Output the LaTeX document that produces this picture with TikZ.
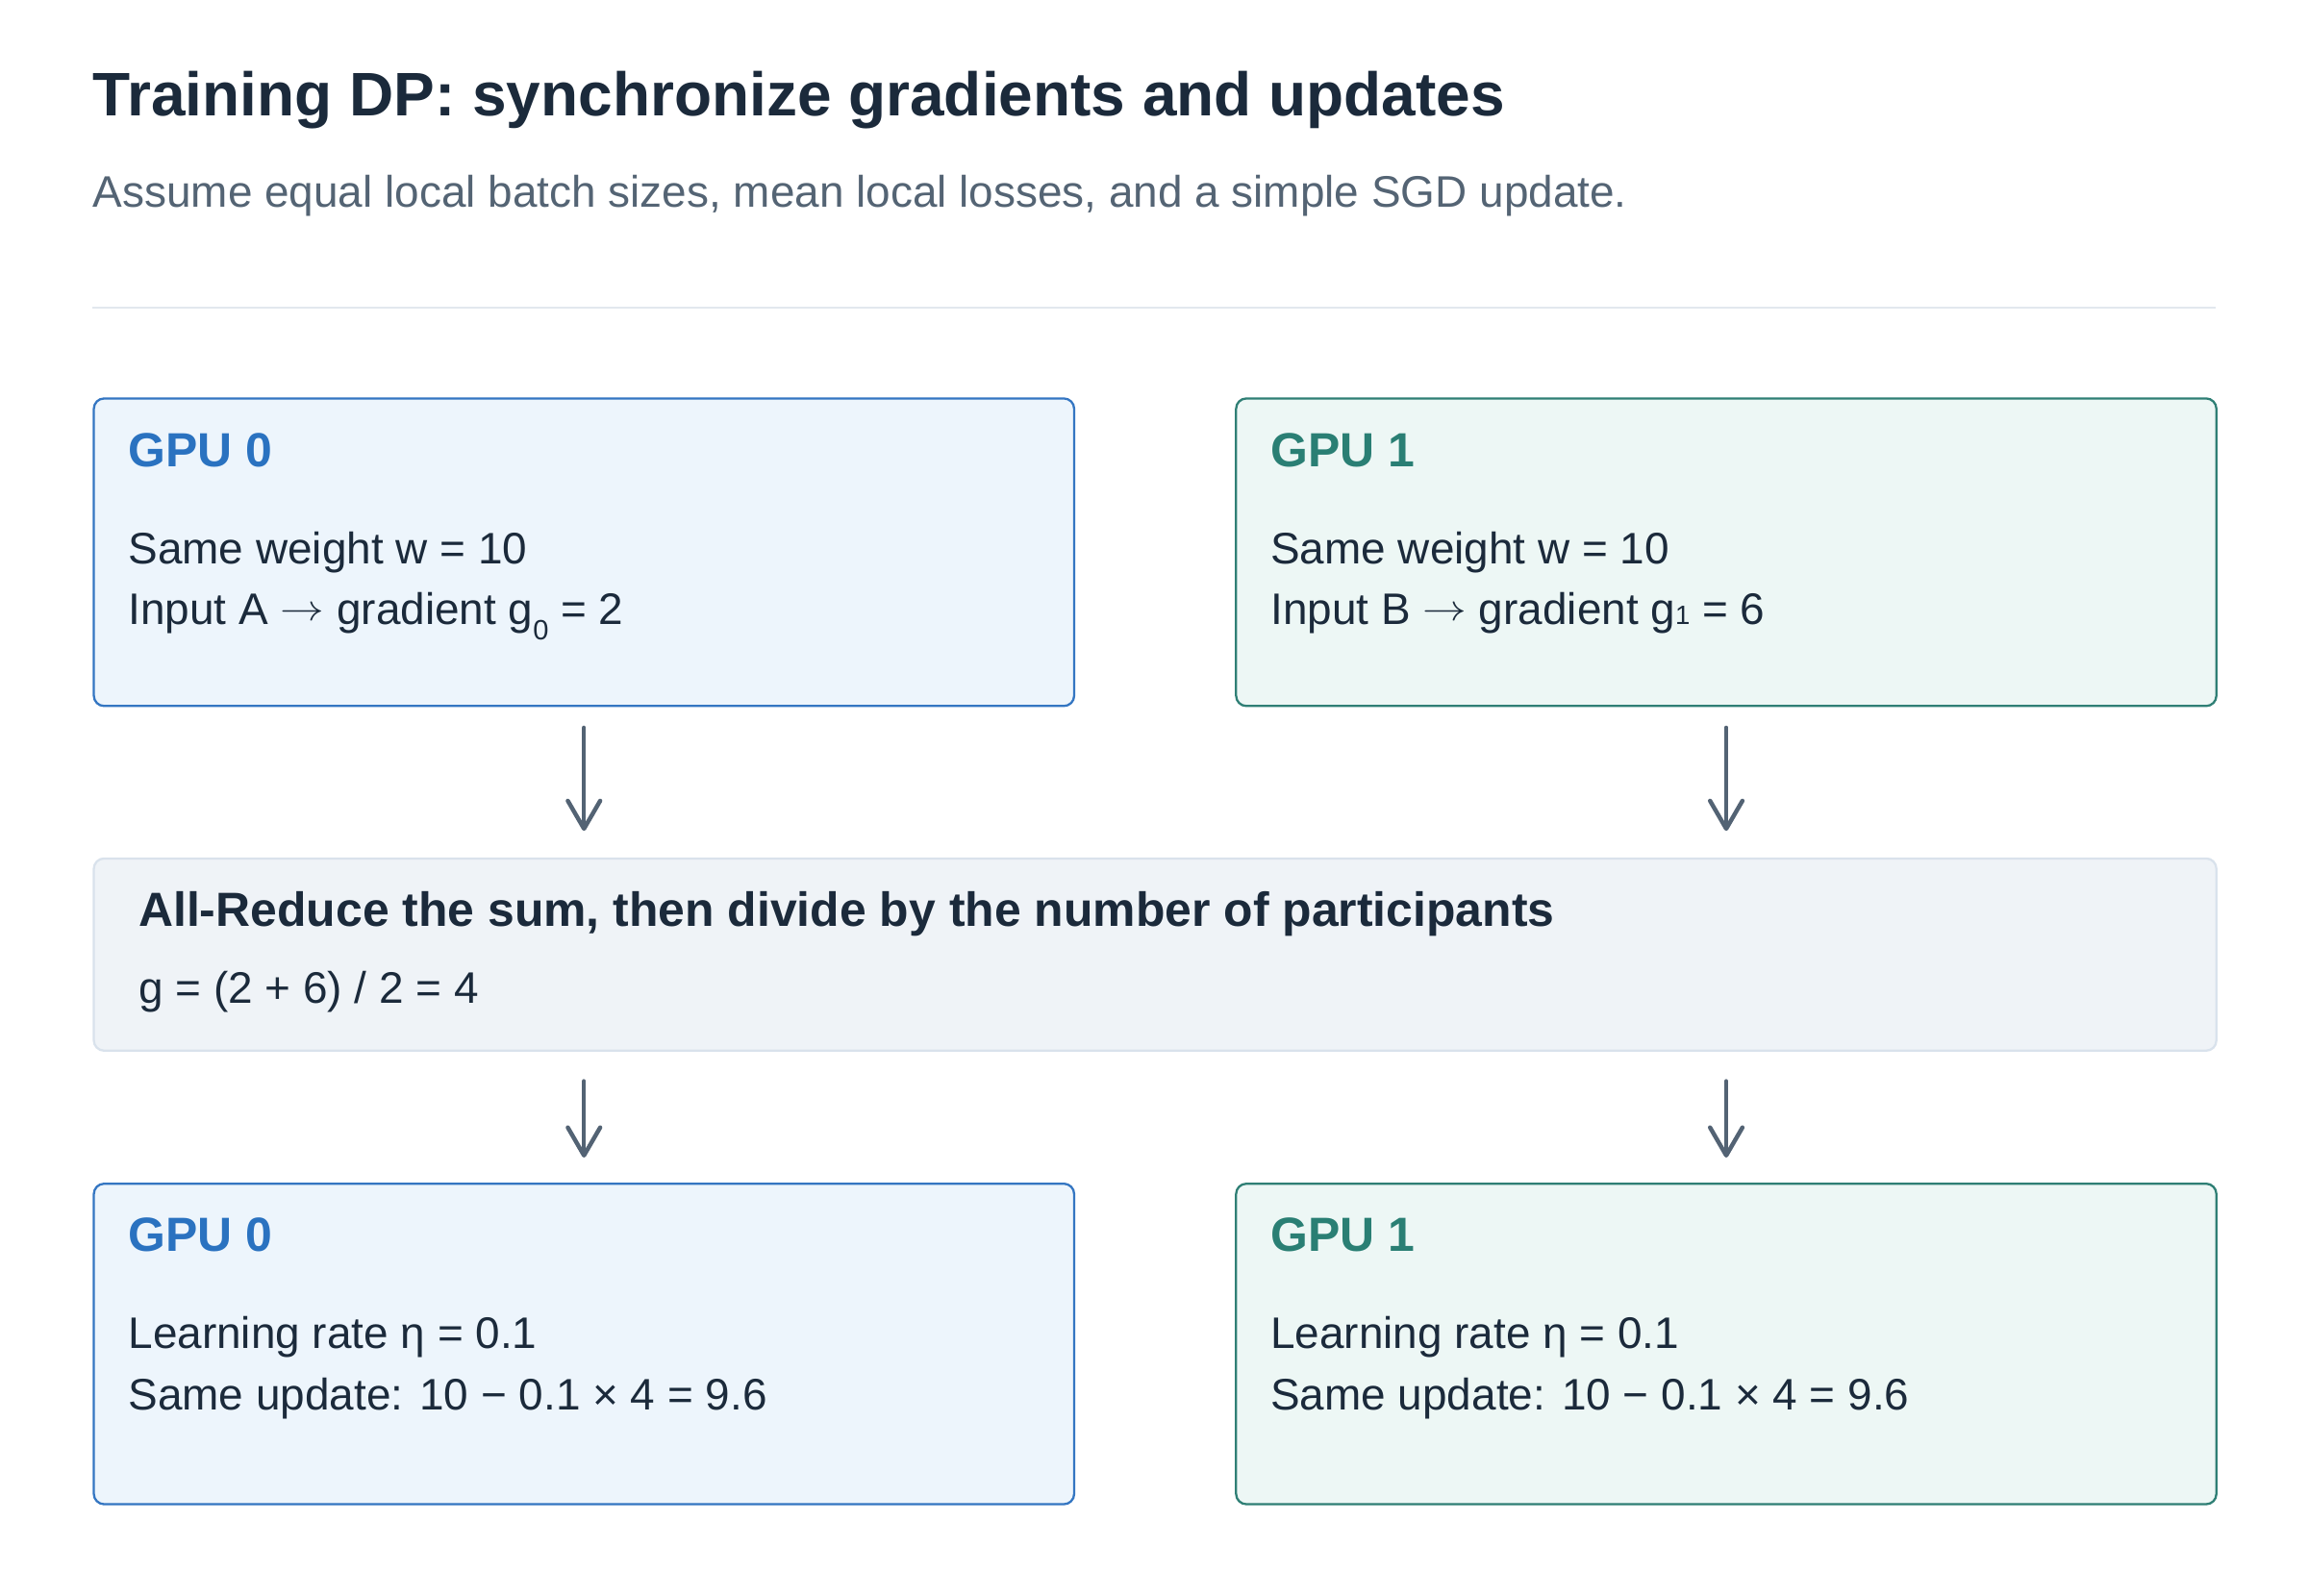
\documentclass[tikz,border=0pt]{standalone}
\usepackage{graphicx}
\usepackage{fontspec}
\setmainfont{Liberation Sans}
\usetikzlibrary{arrows.meta}
\definecolor{ink}{HTML}{1B2A3B}
\definecolor{subc}{HTML}{546474}
\definecolor{rulec}{HTML}{E2E8EE}
\definecolor{blueT}{HTML}{2A72C0}
\definecolor{blueB}{HTML}{3476C2}
\definecolor{blueF}{HTML}{EDF5FC}
\definecolor{tealT}{HTML}{2A7F74}
\definecolor{tealB}{HTML}{2F7F75}
\definecolor{tealF}{HTML}{EDF7F5}
\definecolor{midF}{HTML}{EFF3F7}
\definecolor{midB}{HTML}{D9E2EC}
\definecolor{arrc}{HTML}{536374}
\tikzset{
  box/.style={draw, line width=1.5pt, rounded corners=7pt, anchor=north west, inner sep=0pt},
  box0/.style={box, draw=blueB, fill=blueF, minimum width=666pt},
  box1/.style={box, draw=tealB, fill=tealF, minimum width=666pt},
  midbox/.style={box, draw=midB, fill=midF, minimum width=1442pt, minimum height=130.6pt},
  txt/.style={anchor=base west, inner sep=0pt, text=ink, font=\fontsize{30}{36}\selectfont},
  headtxt/.style={anchor=base west, inner sep=0pt, font=\bfseries\fontsize{32.6}{40}\selectfont},
  arr/.style={draw=arrc, line width=2.9pt, line cap=round, -{Straight Barb[length=19pt, width=22pt, round]}}
}
\newcommand{\subzero}{\raisebox{-10pt}{\fontsize{19}{19}\selectfont 0}}
\newcommand{\subone}{\raisebox{0pt}{\fontsize{18}{18}\selectfont 1}}
\newcommand{\thinarrow}{\raisebox{2.5pt}{\scalebox{1.2}[1.0]{$\rightarrow$}}}
\begin{document}
\begin{tikzpicture}[x=1pt,y=-1pt]
\useasboundingbox[fill=white] (0,0) rectangle (1568,1084.5);
% title
\node[anchor=base west, inner sep=0pt, text=ink, font=\bfseries\fontsize{41.8}{50}\selectfont] (title) at (63,78.5) {Training DP: synchronize gradients and updates};
\node[anchor=base west, inner sep=0pt, text=subc, font=\fontsize{30}{36}\selectfont] (subtitle) at (63,140.5) {Assume equal local batch sizes, mean local losses, and a simple SGD update.};
\draw[rulec, line width=1.3pt] (63,209) -- (1505,209);
% top boxes
\node[box0, minimum height=209pt] (g0a) at (63,270) {};
\node[box1, minimum height=209pt] (g1a) at (839,270) {};
\node[headtxt, text=blueT] (g0aH) at (87,317.5) {GPU 0};
\node[txt] (g0aL1) at (87,383) {Same weight w = 10};
\node[txt] (g0aL2) at (87,424.5) {Input A \thinarrow{} gradient g\subzero{} = 2};
\node[headtxt, text=tealT] (g1aH) at (863,317.5) {GPU 1};
\node[txt] (g1aL1) at (863,383) {Same weight w = 10};
\node[txt] (g1aL2) at (863,424.5) {Input B \thinarrow{} gradient g\subone{} = 6};
% middle box
\node[midbox] (mid) at (63,582.6) {};
\node[headtxt, text=ink] (midH) at (94,629.5) {All-Reduce the sum, then divide by the number of participants};
\node[txt] (midL) at (94,681.6) {g = (2 + 6) / 2 = 4};
% bottom boxes
\node[box0, minimum height=217.8pt] (g0b) at (63,803.6) {};
\node[box1, minimum height=217.8pt] (g1b) at (839,803.6) {};
\node[headtxt, text=blueT] (g0bH) at (87,850.5) {GPU 0};
\node[txt] (g0bL1) at (87,916) {Learning rate η = 0.1};
\node[txt] (g0bL2) at (87,958) {Same update: 10 − 0.1 × 4 = 9.6};
\node[headtxt, text=tealT] (g1bH) at (863,850.5) {GPU 1};
\node[txt] (g1bL1) at (863,916) {Learning rate η = 0.1};
\node[txt] (g1bL2) at (863,958) {Same update: 10 − 0.1 × 4 = 9.6};
% arrows
\draw[arr, shorten <=14pt, shorten >=18pt] (g0a.south) -- (g0a.south |- mid.north);
\draw[arr, shorten <=14pt, shorten >=18pt] (g1a.south) -- (g1a.south |- mid.north);
\draw[arr, shorten <=20pt, shorten >=17pt] (g0b.north |- mid.south) -- (g0b.north);
\draw[arr, shorten <=20pt, shorten >=17pt] (g1b.north |- mid.south) -- (g1b.north);
\end{tikzpicture}
\end{document}
